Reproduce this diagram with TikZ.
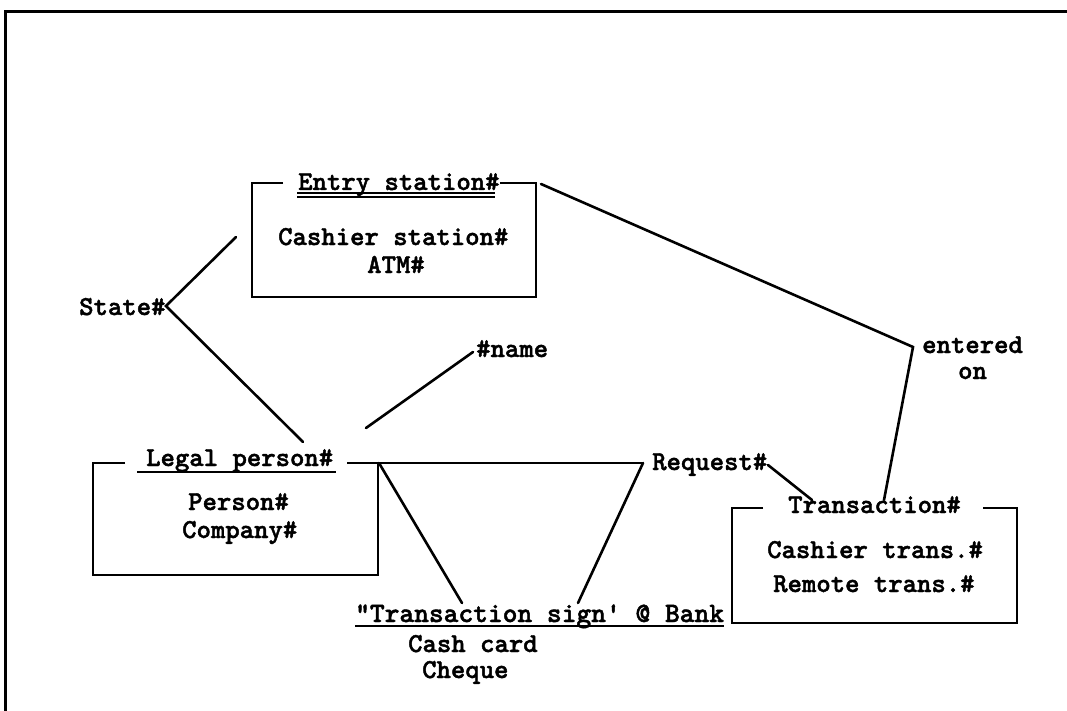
\documentclass[tikz,border=0pt]{standalone}
\usepackage{fontspec}
\newfontfamily\typer{lmmonolt10-bold}[Extension=.otf, FakeBold=1.6]
\usetikzlibrary{calc}
\begin{document}
\begin{tikzpicture}[x=1pt,y=-1pt,
  txt/.style={font=\typer\fontsize{27.4}{24}\selectfont, inner sep=0pt, anchor=base west},
  ln/.style={line width=2.6pt, line cap=round, line join=miter},
  boxline/.style={line width=2.8pt, line cap=butt, line join=miter},
  uline/.style={line width=1.8pt}]
\useasboundingbox (0,0) rectangle (1067,711);

% page frame
\coordinate (frTR) at (1067,12);
\coordinate (frTL) at (5,12);
\coordinate (frBL) at (5,711);
\draw[boxline, line width=3pt] (frTR) -- (frTL) -- (frBL);

% ---- Entry station ----
\node[txt] (esT) at (298,190) {Entry station\#};
\node[txt] (es1) at (278,245) {Cashier station\#};
\node[txt] (es2) at (367,273) {ATM\#};
\coordinate (esA) at (283,183);
\coordinate (esNW) at (252,183);
\coordinate (esSW) at (252,297);
\coordinate (esSE) at (536,297);
\coordinate (esNE) at (536,183);
\coordinate (esB) at (500,183);
\draw[boxline] (esA) -- (esNW) -- (esSW) -- (esSE) -- (esNE) -- (esB);
\draw[uline, line width=1.4pt] ($(esT.base west)+(-1,3)$) -- ($(esT.base east)+(-5,3)$);
\draw[uline, line width=1.4pt] ($(esT.base west)+(-1,7)$) -- ($(esT.base east)+(-5,7)$);

% ---- Legal person ----
\node[txt] (lpT) at (146,466) {Legal person\#};
\node[txt] (lp1) at (188,510) {Person\#};
\node[txt] (lp2) at (182,538) {Company\#};
\coordinate (lpA) at (125,463);
\coordinate (lpNW) at (93,463);
\coordinate (lpSW) at (93,575);
\coordinate (lpSE) at (378,575);
\coordinate (lpNE) at (378,463);
\coordinate (lpB) at (347,463);
\draw[boxline] (lpA) -- (lpNW) -- (lpSW) -- (lpSE) -- (lpNE) -- (lpB);
\draw[uline] ($(lpT.base west)+(-9,6)$) -- ($(lpT.base east)+(3,6)$);

% ---- Transaction ----
\node[txt] (trT) at (788,513) {Transaction\#};
\node[txt] (tr1) at (767,558) {Cashier trans.\#};
\node[txt] (tr2) at (773,592) {Remote trans.\#};
\coordinate (trA) at (763,508);
\coordinate (trNW) at (732,508);
\coordinate (trSW) at (732,623);
\coordinate (trSE) at (1017,623);
\coordinate (trNE) at (1017,508);
\coordinate (trB) at (983,508);
\draw[boxline] (trA) -- (trNW) -- (trSW) -- (trSE) -- (trNE) -- (trB);

% ---- relationship labels ----
\node[txt] (state) at (79,315) {State\#};
\node[txt] (name) at (476,357) {\#name};
\node[txt, align=center, font=\typer\fontsize{27.4}{26}\selectfont] (entered) at (922,379) {entered\\on};
\node[txt] (req) at (652,470) {Request\#};
\node[txt, font=\typer\fontsize{28.1}{24}\selectfont] (sign) at (355,622) {\textquotedbl Transaction sign\textquotesingle{} @ Bank};
\node[txt] (cash) at (408,652) {Cash card};
\node[txt] (cheque) at (422,678) {Cheque};
\draw[uline] ($(sign.base west)+(0,4)$) -- ($(sign.base east)+(0,4)$);

% ---- connector vertices ----
\coordinate (stV) at (166,306);
\coordinate (stUp) at (236,237);
\coordinate (stDn) at (303,442);
\coordinate (nmA) at (366,428);
\coordinate (nmB) at (473,352);
\coordinate (enA) at (541,184);
\coordinate (enV) at (913,347);
\coordinate (enB) at (884,500);
\coordinate (rqL) at (379,463);
\coordinate (rqR) at (643,463);
\coordinate (sgL) at (462,603);
\coordinate (sgR) at (578,603);
\coordinate (rqA) at (768,465);
\coordinate (rqB) at (812,500);

% ---- connectors ----
\draw[ln] (stUp) -- (stV) -- (stDn);
\draw[ln] (nmA) -- (nmB);
\draw[ln] (enA) -- (enV) -- (enB);
\draw[ln] (rqL) -- (rqR);
\draw[ln] (rqL) -- (sgL);
\draw[ln] (rqR) -- (sgR);
\draw[ln] (rqA) -- (rqB);
\end{tikzpicture}
\end{document}
